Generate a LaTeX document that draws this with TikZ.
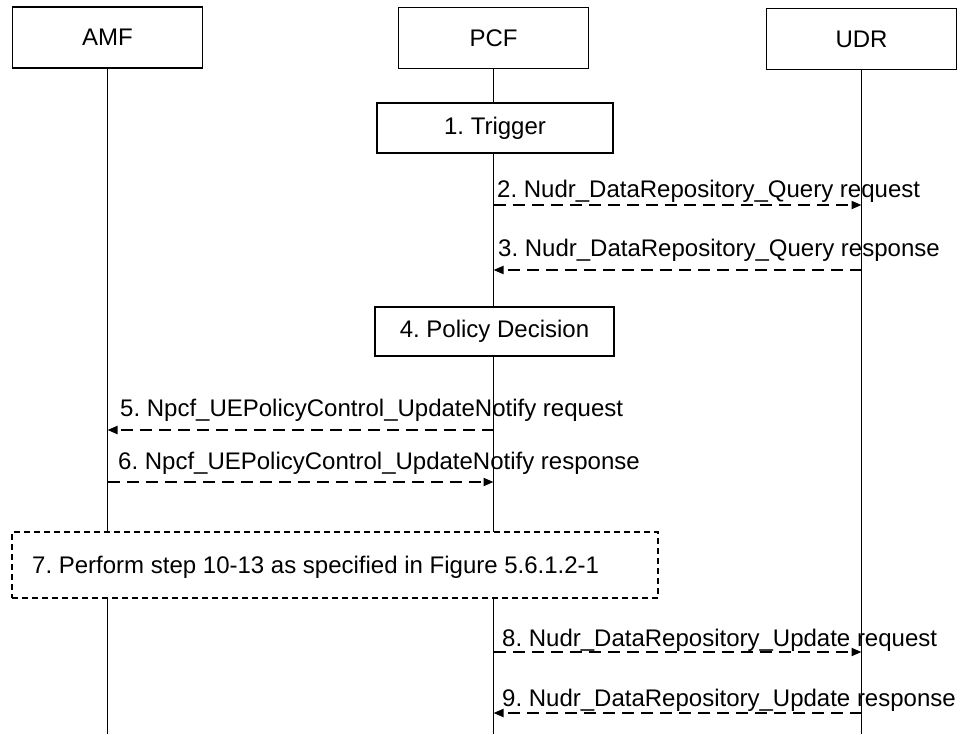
\documentclass[tikz,border=0pt]{standalone}
\usepackage{fontspec}
\setmainfont{Liberation Sans}
\usetikzlibrary{arrows.meta}
\frenchspacing
\begin{document}
\begin{tikzpicture}[x=1pt,y=-1pt,
  every node/.style={font=\fontsize{24}{28}\selectfont},
  entity/.style={draw,line width=1.6pt,fill=white,minimum width=190pt,minimum height=61pt,inner sep=0pt},
  stepbox/.style={draw,line width=1.6pt,fill=white,inner sep=0pt},
  refbox/.style={draw,line width=1.3pt,fill=white,dash pattern=on 6pt off 4pt,inner sep=0pt},
  life/.style={line width=1.6pt},
  msg/.style={line width=1.9pt,dash pattern=on 12pt off 7pt,-{Triangle[length=10pt,width=8pt]}},
  lbl/.style={anchor=base west,inner sep=0pt}]
\useasboundingbox (0,0) rectangle (960,734);
% entities
\node[entity] (amf) at (107.5,37.5) {AMF};
\node[entity] (pcf) at (493.5,38) {PCF};
\node[entity] (udr) at (861.5,39) {UDR};
% lifeline bottoms
\coordinate (amfE) at (107.5,734);
\coordinate (pcfE) at (493.5,734);
\coordinate (udrE) at (861.5,734);
\draw[life] (amf.south) -- (amfE);
\draw[life] (pcf.south) -- (pcfE);
\draw[life] (udr.south) -- (udrE);
% step boxes
\node[stepbox,minimum width=236pt,minimum height=50pt] (trig) at (495,128) {1. Trigger};
\node[stepbox,minimum width=239pt,minimum height=49pt] (pol) at (494.5,331.5) {4. Policy Decision};
\node[refbox,minimum width=646pt,minimum height=66pt] (ref) at (335,565) {};
\node[lbl] (reft) at (32,573) {7. Perform step 10-13 as specified in Figure 5.6.1.2-1};
% message anchor points
\coordinate (p2) at (493.5,205); \coordinate (u2) at (861.5,205);
\coordinate (u3) at (861.5,270); \coordinate (p3) at (493.5,270);
\coordinate (p5) at (493.5,430); \coordinate (a5) at (107.5,430);
\coordinate (a6) at (107.5,482); \coordinate (p6) at (493.5,482);
\coordinate (p8) at (493.5,652); \coordinate (u8) at (861.5,652);
\coordinate (u9) at (861.5,713); \coordinate (p9) at (493.5,713);
% messages
\draw[msg] (p2) -- (u2);
\draw[msg] (u3) -- (p3);
\draw[msg] (p5) -- (a5);
\draw[msg] (a6) -- (p6);
\draw[msg] (p8) -- (u8);
\draw[msg] (u9) -- (p9);
% labels
\node[lbl] (l2) at (497,197) {2. Nudr\_DataRepository\_Query request};
\node[lbl] (l3) at (498,256) {3. Nudr\_DataRepository\_Query response};
\node[lbl] (l5) at (120,416) {5. Npcf\_UEPolicyControl\_UpdateNotify request};
\node[lbl] (l6) at (118,469) {6. Npcf\_UEPolicyControl\_UpdateNotify response};
\node[lbl] (l8) at (502,646) {8. Nudr\_DataRepository\_Update request};
\node[lbl] (l9) at (502,706) {9. Nudr\_DataRepository\_Update response};
\end{tikzpicture}
\end{document}
